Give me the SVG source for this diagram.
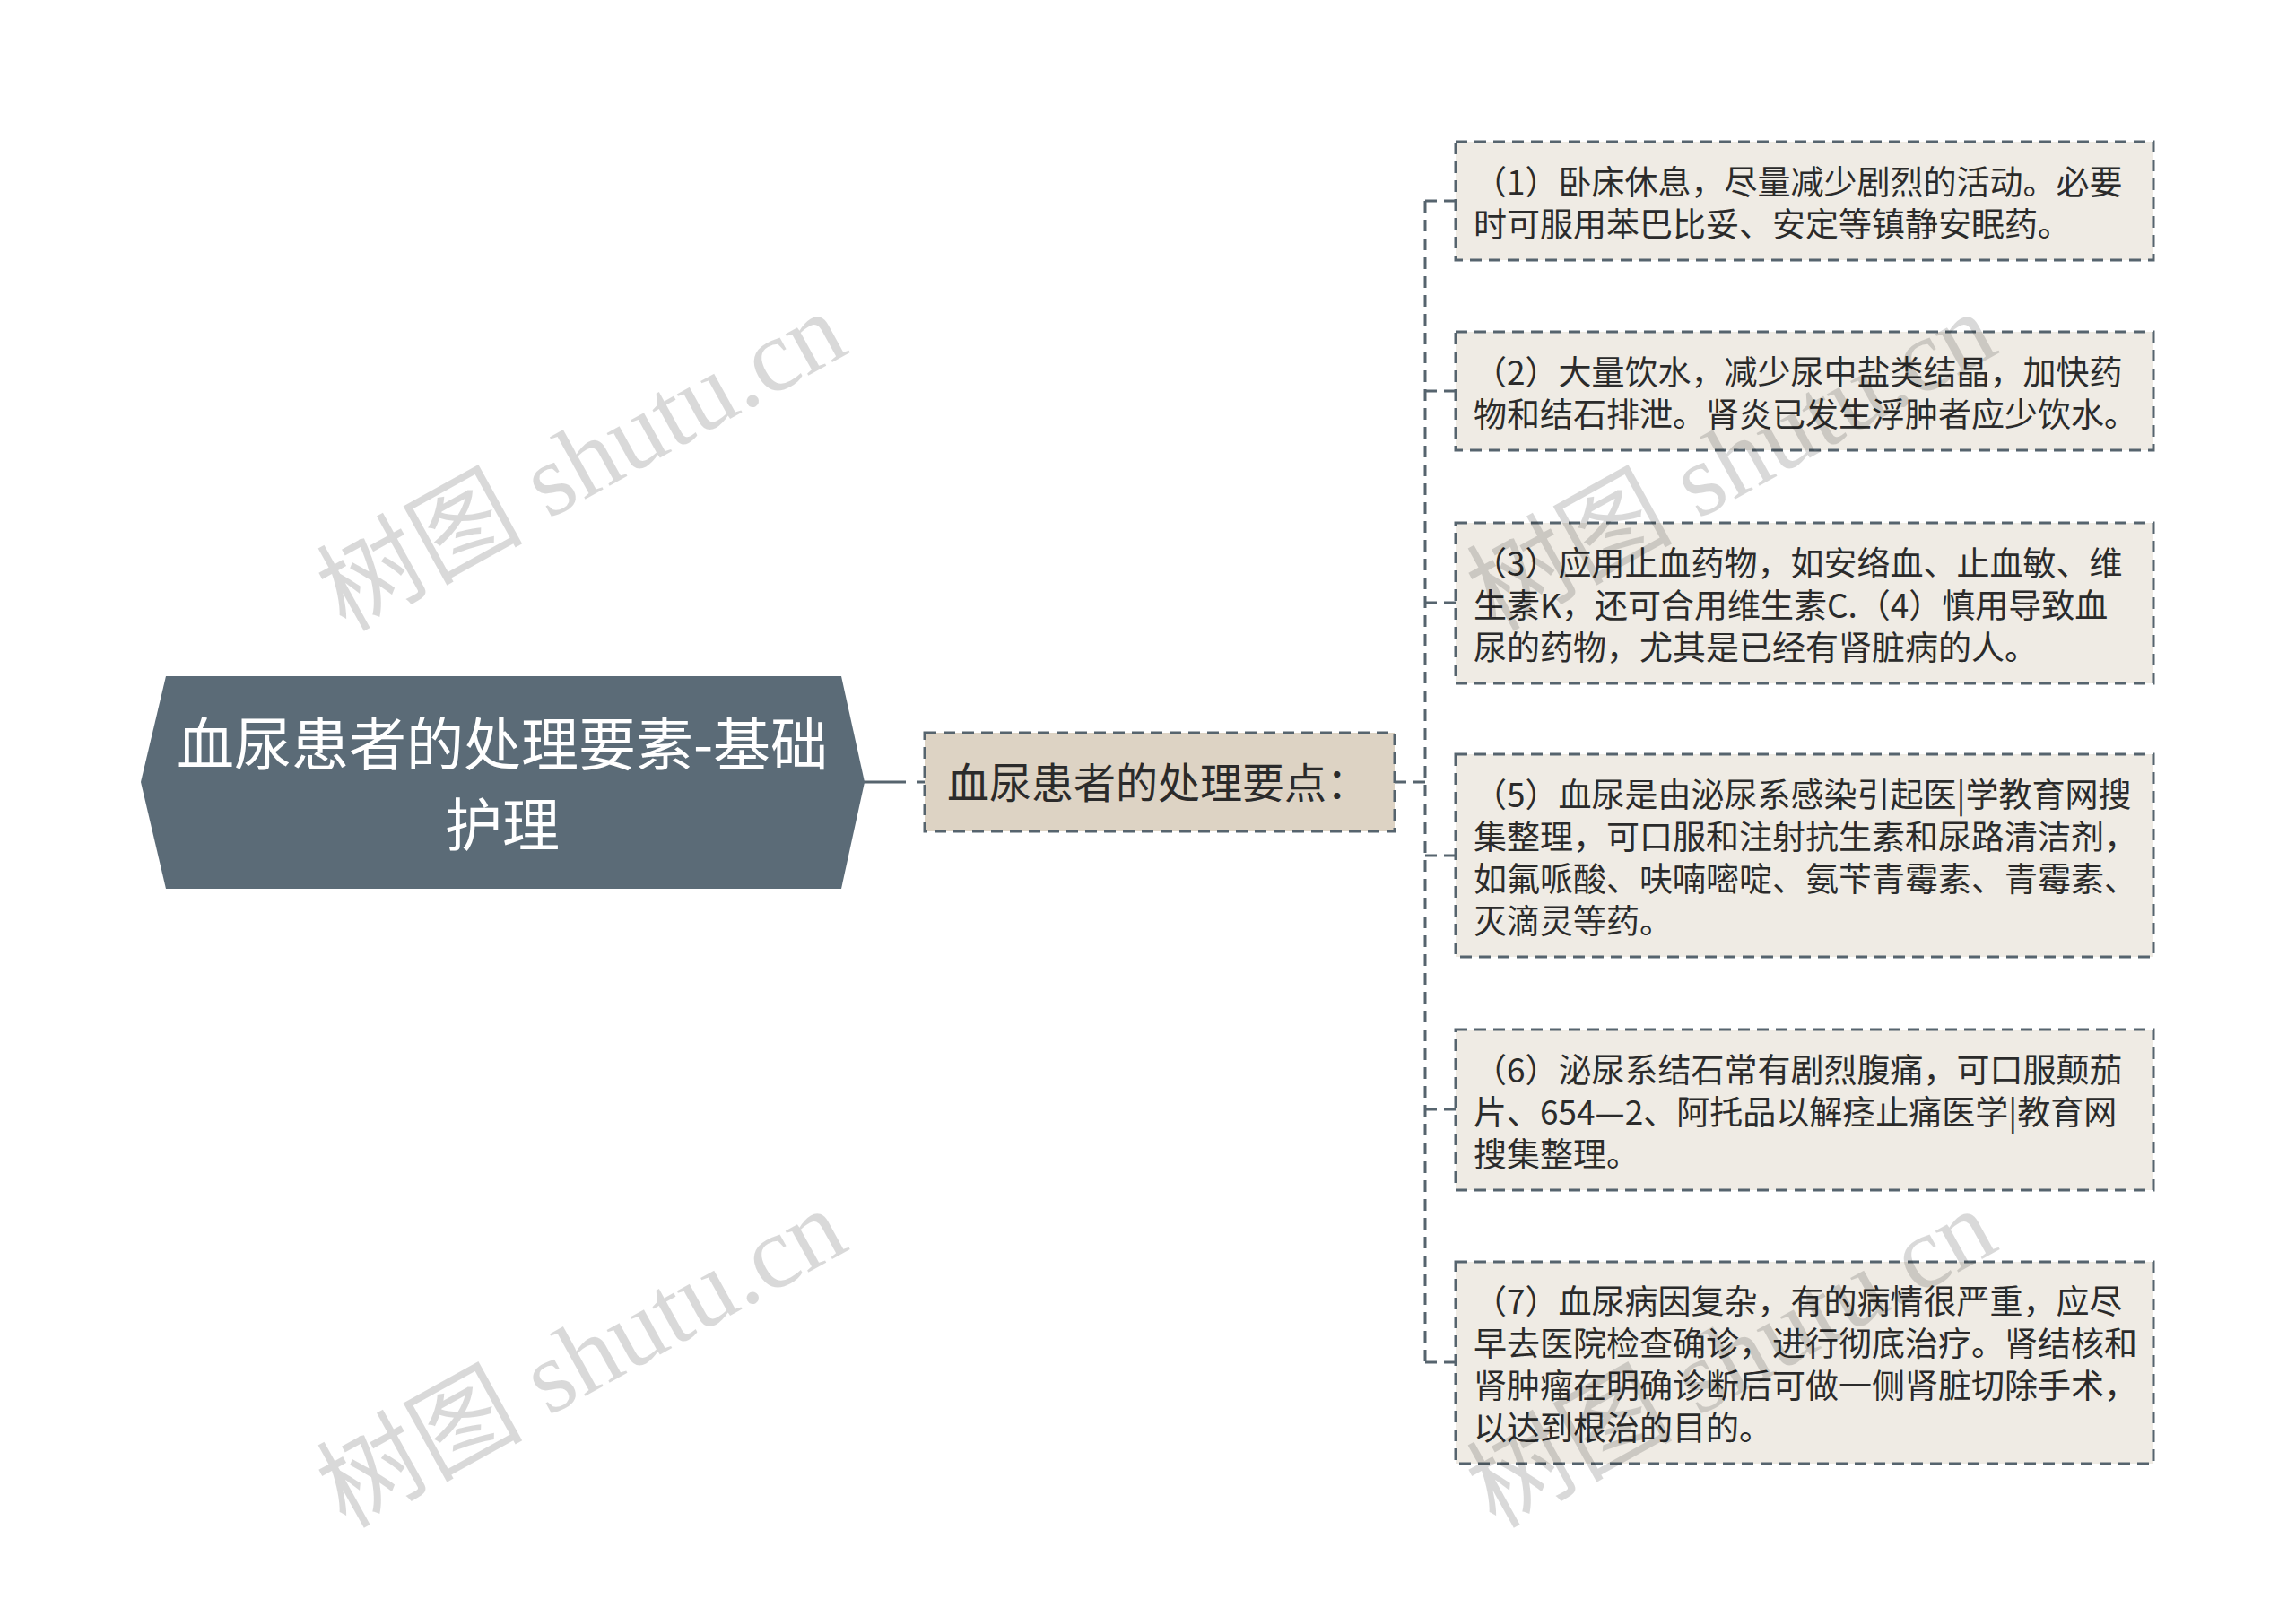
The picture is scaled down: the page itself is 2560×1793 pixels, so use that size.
<svg xmlns="http://www.w3.org/2000/svg" width="2560" height="1793" viewBox="0 0 2560 1793">
<style>
.bg{fill:#ffffff}
.root{fill:#5b6b77}
.mid{fill:#ddd3c4;stroke:#56646e;stroke-width:3;stroke-dasharray:13 8}
.leaf{fill:#efebe4;stroke:#56646e;stroke-width:3;stroke-dasharray:13 8}
.conn{stroke:#56646e;stroke-width:3;fill:none}
.dash{stroke-dasharray:13 8}
.t{font-family:"Noto Sans CJK SC","Noto Sans",sans-serif;fill:#2b2b2b}
.rt{font-family:"Noto Sans CJK SC","Noto Sans",sans-serif;fill:#ffffff;font-size:64px;text-anchor:middle}
.mt{font-size:47px}
.lt{font-size:37px}
.wm{font-family:"Liberation Serif","Noto Sans CJK SC",serif;font-size:115px;fill:#000000;fill-opacity:0.15}
</style>
<rect class="bg" x="0" y="0" width="2560" height="1793"/>
<g id="connectors">
<line class="conn" x1="963" y1="872" x2="1010" y2="872"/>
<line class="conn" x1="1022" y1="872" x2="1031" y2="872"/>
<line class="conn dash" x1="1555" y1="872" x2="1589" y2="872"/>
<line class="conn dash" x1="1589" y1="224" x2="1589" y2="1520"/>
<line class="conn dash" x1="1589" y1="224" x2="1623" y2="224"/>
<line class="conn dash" x1="1589" y1="436" x2="1623" y2="436"/>
<line class="conn dash" x1="1589" y1="672" x2="1623" y2="672"/>
<line class="conn dash" x1="1589" y1="954" x2="1623" y2="954"/>
<line class="conn dash" x1="1589" y1="1237" x2="1623" y2="1237"/>
<line class="conn dash" x1="1589" y1="1519" x2="1623" y2="1519"/>
</g>
<g id="root">
<polygon class="root" points="157,872 185,754 938,754 964,872 938,991 185,991"/>
<text class="rt" x="560" y="853">血尿患者的处理要素-基础</text>
<text class="rt" x="560" y="943">护理</text>
</g>
<g id="main">
<rect class="mid" x="1031" y="817" width="524" height="110"/>
<text class="t mt" x="1056" y="890">血尿患者的处理要点：</text>
</g>
<g id="item1">
<rect class="leaf" x="1623" y="158" width="778" height="132"/>
<text class="t lt" x="1643" y="216.5">（1）卧床休息，尽量减少剧烈的活动。必要</text>
<text class="t lt" x="1643" y="263.5">时可服用苯巴比妥、安定等镇静安眠药。</text>
</g>
<g id="item2">
<rect class="leaf" x="1623" y="370" width="778" height="132"/>
<text class="t lt" x="1643" y="428.5">（2）大量饮水，减少尿中盐类结晶，加快药</text>
<text class="t lt" x="1643" y="475.5">物和结石排泄。肾炎已发生浮肿者应少饮水。</text>
</g>
<g id="item3">
<rect class="leaf" x="1623" y="583" width="778" height="179"/>
<text class="t lt" x="1643" y="641.5">（3）应用止血药物，如安络血、止血敏、维</text>
<text class="t lt" x="1643" y="688.5">生素K，还可合用维生素C.（4）慎用导致血</text>
<text class="t lt" x="1643" y="735.5">尿的药物，尤其是已经有肾脏病的人。</text>
</g>
<g id="item4">
<rect class="leaf" x="1623" y="841" width="778" height="226"/>
<text class="t lt" x="1643" y="899.5">（5）血尿是由泌尿系感染引起医|学教育网搜</text>
<text class="t lt" x="1643" y="946.5">集整理，可口服和注射抗生素和尿路清洁剂，</text>
<text class="t lt" x="1643" y="993.5">如氟哌酸、呋喃嘧啶、氨苄青霉素、青霉素、</text>
<text class="t lt" x="1643" y="1040.5">灭滴灵等药。</text>
</g>
<g id="item5">
<rect class="leaf" x="1623" y="1148" width="778" height="179"/>
<text class="t lt" x="1643" y="1206.5">（6）泌尿系结石常有剧烈腹痛，可口服颠茄</text>
<text class="t lt" x="1643" y="1253.5">片、654—2、阿托品以解痉止痛医学|教育网</text>
<text class="t lt" x="1643" y="1300.5">搜集整理。</text>
</g>
<g id="item6">
<rect class="leaf" x="1623" y="1407" width="778" height="225"/>
<text class="t lt" x="1643" y="1465">（7）血尿病因复杂，有的病情很严重，应尽</text>
<text class="t lt" x="1643" y="1512">早去医院检查确诊，进行彻底治疗。肾结核和</text>
<text class="t lt" x="1643" y="1559">肾肿瘤在明确诊断后可做一侧肾脏切除手术，</text>
<text class="t lt" x="1643" y="1606">以达到根治的目的。</text>
</g>
<g id="watermarks">
<text class="wm" x="385" y="705" transform="rotate(-29 385 705)">树图 shutu.cn</text>
<text class="wm" x="385" y="1705" transform="rotate(-29 385 1705)">树图 shutu.cn</text>
<text class="wm" x="1667" y="705" transform="rotate(-29 1667 705)">树图 shutu.cn</text>
<text class="wm" x="1667" y="1705" transform="rotate(-29 1667 1705)">树图 shutu.cn</text>
</g>
</svg>
